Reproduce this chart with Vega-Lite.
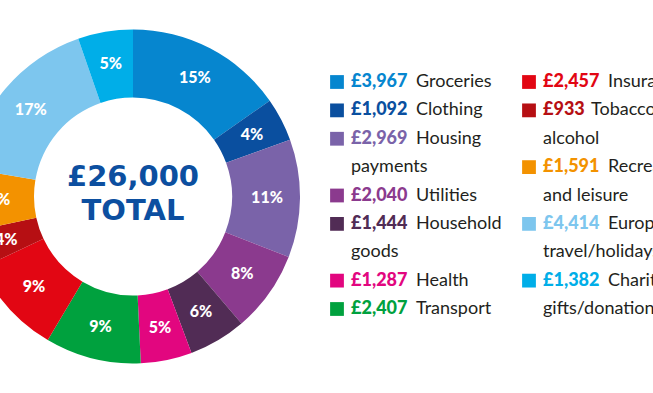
{
  "$schema": "https://vega.github.io/schema/vega-lite/v6.json",
  "padding": {"left": -34, "top": 0, "right": 0, "bottom": 0},
  "background": "white",
  "spacing": 0,
  "bounds": "flush",
  "config": {"view": {"stroke": null}, "concat": {"spacing": 0}},
  "datasets": {
    "cats": [
      {"k": 1, "item": "Groceries", "value": 3967, "pct": "15%", "amt": "£3,967", "name": "Groceries", "col": 1, "line": 0},
      {"k": 2, "item": "Clothing", "value": 1092, "pct": "4%", "amt": "£1,092", "name": "Clothing", "col": 1, "line": 1},
      {"k": 3, "item": "Housing payments", "value": 2969, "pct": "11%", "amt": "£2,969", "name": "Housing", "col": 1, "line": 2},
      {"k": 4, "item": "Utilities", "value": 2040, "pct": "8%", "amt": "£2,040", "name": "Utilities", "col": 1, "line": 4},
      {"k": 5, "item": "Household goods", "value": 1444, "pct": "6%", "amt": "£1,444", "name": "Household", "col": 1, "line": 5},
      {"k": 6, "item": "Health", "value": 1287, "pct": "5%", "amt": "£1,287", "name": "Health", "col": 1, "line": 7},
      {"k": 7, "item": "Transport", "value": 2407, "pct": "9%", "amt": "£2,407", "name": "Transport", "col": 1, "line": 8},
      {"k": 8, "item": "Insurance", "value": 2457, "pct": "9%", "amt": "£2,457", "name": "Insurance", "col": 2, "line": 0},
      {"k": 9, "item": "Tobacco and alcohol", "value": 933, "pct": "4%", "amt": "£933", "name": "Tobacco and", "col": 2, "line": 1},
      {"k": 10, "item": "Recreation and leisure", "value": 1591, "pct": "6%", "amt": "£1,591", "name": "Recreation", "col": 2, "line": 3},
      {"k": 11, "item": "European travel/holidays", "value": 4414, "pct": "17%", "amt": "£4,414", "name": "European", "col": 2, "line": 5},
      {"k": 12, "item": "Charity gifts/donations", "value": 1382, "pct": "5%", "amt": "£1,382", "name": "Charity", "col": 2, "line": 7}
    ],
    "cont": [
      {"col": 1, "line": 3, "text": "payments"},
      {"col": 1, "line": 6, "text": "goods"},
      {"col": 2, "line": 2, "text": "alcohol"},
      {"col": 2, "line": 4, "text": "and leisure"},
      {"col": 2, "line": 6, "text": "travel/holidays"},
      {"col": 2, "line": 8, "text": "gifts/donations"}
    ]
  },
  "hconcat": [
    {
      "width": 266,
      "height": 393,
      "data": {"name": "cats"},
      "layer": [
        {
          "mark": {"type": "arc", "innerRadius": 99, "outerRadius": 167},
          "encoding": {
            "theta": {"field": "value", "type": "quantitative", "stack": true},
            "order": {"field": "k", "type": "quantitative"},
            "color": {
              "field": "item", "type": "nominal", "legend": null,
              "scale": {
                "domain": ["Groceries", "Clothing", "Housing payments", "Utilities", "Household goods", "Health", "Transport", "Insurance", "Tobacco and alcohol", "Recreation and leisure", "European travel/holidays", "Charity gifts/donations"],
                "range": ["#0686cf", "#0a4f9f", "#7a63a9", "#8b3a8e", "#512c55", "#e2067f", "#00a13e", "#e20613", "#b60f13", "#f39200", "#7dc6ee", "#00aee8"]
              }
            }
          }
        },
        {
          "mark": {"type": "text", "radius": 134, "font": "Lato", "fontWeight": 900, "fontSize": 16, "fill": "white", "align": "center", "baseline": "middle"},
          "encoding": {
            "theta": {"field": "value", "type": "quantitative", "stack": true},
            "order": {"field": "k", "type": "quantitative"},
            "text": {"field": "pct", "type": "nominal"}
          }
        },
        {
          "data": {"values": [{"label": ["£26,000", "TOTAL"]}]},
          "mark": {"type": "text", "font": "DejaVu Sans", "fontWeight": "bold", "fontSize": 29, "lineHeight": 34, "fill": "#0c4fa0", "align": "center", "baseline": "middle", "dy": -19.5},
          "encoding": {"text": {"field": "label"}}
        }
      ]
    },
    {
      "width": 387,
      "height": 393,
      "layer": [
        {
          "data": {"name": "cats"},
          "mark": {"type": "square", "size": 190, "opacity": 1},
          "encoding": {
            "x": {"field": "col", "type": "quantitative", "axis": null, "scale": {"domain": [1, 2], "range": [71, 263]}},
            "y": {"field": "line", "type": "quantitative", "axis": null, "scale": {"domain": [0, 8], "range": [82, 309]}},
            "color": {
              "field": "item", "type": "nominal", "legend": null,
              "scale": {
                "domain": ["Groceries", "Clothing", "Housing payments", "Utilities", "Household goods", "Health", "Transport", "Insurance", "Tobacco and alcohol", "Recreation and leisure", "European travel/holidays", "Charity gifts/donations"],
                "range": ["#0686cf", "#0a4f9f", "#7a63a9", "#8b3a8e", "#512c55", "#e2067f", "#00a13e", "#e20613", "#b60f13", "#f39200", "#7dc6ee", "#00aee8"]
              }
            }
          }
        },
        {
          "data": {"name": "cats"},
          "mark": {"type": "text", "font": "Lato", "fontWeight": 900, "fontSize": 18, "align": "left", "baseline": "middle", "dx": 14},
          "encoding": {
            "x": {"field": "col", "type": "quantitative"},
            "y": {"field": "line", "type": "quantitative"},
            "text": {"field": "amt", "type": "nominal"},
            "color": {"field": "item", "type": "nominal", "legend": null}
          }
        },
        {
          "data": {"name": "cats"},
          "transform": [{"filter": {"not": {"field": "item", "equal": "Tobacco and alcohol"}}}],
          "mark": {"type": "text", "font": "Lato", "fontSize": 18, "align": "left", "baseline": "middle", "dx": 79, "fill": "#231f20"},
          "encoding": {
            "x": {"field": "col", "type": "quantitative"},
            "y": {"field": "line", "type": "quantitative"},
            "text": {"field": "name", "type": "nominal"}
          }
        },
        {
          "data": {"name": "cats"},
          "transform": [{"filter": {"field": "item", "equal": "Tobacco and alcohol"}}],
          "mark": {"type": "text", "font": "Lato", "fontSize": 18, "align": "left", "baseline": "middle", "dx": 62, "fill": "#231f20"},
          "encoding": {
            "x": {"field": "col", "type": "quantitative"},
            "y": {"field": "line", "type": "quantitative"},
            "text": {"field": "name", "type": "nominal"}
          }
        },
        {
          "data": {"name": "cont"},
          "mark": {"type": "text", "font": "Lato", "fontSize": 18, "align": "left", "baseline": "middle", "dx": 14, "fill": "#231f20"},
          "encoding": {
            "x": {"field": "col", "type": "quantitative"},
            "y": {"field": "line", "type": "quantitative"},
            "text": {"field": "text", "type": "nominal"}
          }
        }
      ]
    }
  ]
}
